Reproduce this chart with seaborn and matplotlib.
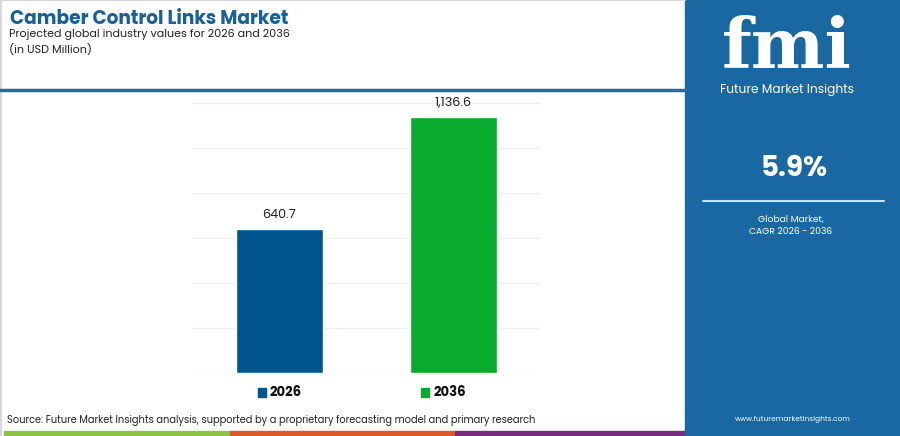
import pandas as pd
import numpy as np
import matplotlib
matplotlib.use('Agg')
import matplotlib.pyplot as plt
import seaborn as sns
from matplotlib.patches import Rectangle
from matplotlib.lines import Line2D

# Дані
years = ['2026', '2036']
values = [640.7, 1136.6]
value_labels = ['640.7', '1,136.6']
bar_colors = ['#00568c', '#08ab2d']
cagr = '5.9%'

df = pd.DataFrame({'year': years, 'value': values})

sns.set_theme(style='white')
plt.rcParams['font.family'] = ['Poppins', 'Inter', 'DejaVu Sans']

W, H = 900, 436
fig = plt.figure(figsize=(W / 100, H / 100), dpi=100)
PANEL = '#1a68a2'


def px(x0, y0, x1, y1):
    # прямокутник у пікселях (зверху вниз) -> координати фігури
    return [x0 / W, 1 - y1 / H, (x1 - x0) / W, (y1 - y0) / H]


def fy(y):
    return 1 - y / H


# Рамка зліва/зверху
fig.add_artist(Line2D([0, 685 / W], [fy(0.5)] * 2, color='#d8d8d8', linewidth=1.5))
fig.add_artist(Line2D([0.5 / W] * 2, [0, 1], color='#d8d8d8', linewidth=1.5))

# Основний графік
ax = fig.add_axes(px(192, 103, 540, 373))
sns.barplot(data=df, x='year', y='value', hue='year', palette=bar_colors,
            width=0.5, legend=False, ax=ax, saturation=1)
ax.set_xlim(-0.5, 1.5)
ax.set_ylim(0, 1200)
ax.set_yticks(np.arange(0, 1201, 200))
ax.yaxis.grid(True, color='#f0f0f0', linewidth=1)
ax.set_axisbelow(True)
for s in ax.spines.values():
    s.set_visible(False)
ax.set_xticks([])
ax.set_yticklabels([])
ax.tick_params(left=False, bottom=False)
ax.set_xlabel('')
ax.set_ylabel('')
for i, (v, lab) in enumerate(zip(values, value_labels)):
    ax.text(i, v + 35, lab, ha='center', va='bottom', fontsize=9.2, color='#222222')

# Заголовок
fig.text(10 / W, fy(20), 'Camber Control Links Market', fontsize=13.4,
         fontweight='bold', color='#17609a', va='center', ha='left')
fig.text(9 / W, fy(34), 'Projected global industry values for 2026 and 2036',
         fontsize=8, color='#222222', va='center', ha='left')
fig.text(9 / W, fy(50), '(in USD Million)', fontsize=8,
         color='#222222', va='center', ha='left')

# Синя лінія під заголовком
fig.add_artist(Line2D([0, 685 / W], [fy(90)] * 2, color='#1f6ea8', linewidth=2.5))

# Легенда
for xs, yr, c in [(258, '2026', bar_colors[0]), (421, '2036', bar_colors[1])]:
    fig.add_artist(Rectangle((xs / W, fy(397)), 8 / W, 9 / H, color=c))
    fig.text((xs + 12) / W, fy(392.5), yr, fontsize=9.5, fontweight='bold',
             color='#111111', va='center', ha='left')

# Джерело
fig.text(7 / W, fy(420.5),
         'Source: Future Market Insights analysis, supported by a proprietary forecasting model and primary research',
         fontsize=7.1, color='#222222', va='center', ha='left')

# Кольорова смуга внизу
for x0, x1, c in [(4, 230, '#8cc43f'), (230, 455, '#e05a28'), (455, 685, '#7b2a7f')]:
    fig.add_artist(Rectangle((x0 / W, fy(435)), (x1 - x0) / W, 4 / H, color=c))

# Права панель
fig.add_artist(Rectangle((685 / W, 0), (W - 685) / W, 1, color=PANEL))
fig.text(787 / W, fy(48), 'fmi', fontsize=50, fontweight='bold', color='white',
         va='center', ha='center', family='DejaVu Serif')
# смужки на логотипі
for yy in np.arange(26, 76, 3.2):
    fig.add_artist(Line2D([715 / W, 860 / W], [fy(yy)] * 2, color=PANEL, linewidth=0.7))
fig.text(787 / W, fy(90), 'Future Market Insights', fontsize=8.8, color='white',
         va='center', ha='center')
fig.text(794 / W, fy(169), cagr, fontsize=20, fontweight='bold', color='white',
         va='center', ha='center')
fig.add_artist(Line2D([703 / W, 884 / W], [fy(201)] * 2, color='#cfe0ee', linewidth=1.5))
fig.text(791 / W, fy(219), 'Global Market,', fontsize=6.6, color='white',
         va='center', ha='center')
fig.text(791 / W, fy(231.5), 'CAGR 2026 - 2036', fontsize=6.6, color='white',
         va='center', ha='center')
fig.text(793 / W, fy(419), 'www.futuremarketinsights.com', fontsize=5.3, color='white',
         va='center', ha='center')

fig.savefig('out.png', dpi=100, facecolor='white')
